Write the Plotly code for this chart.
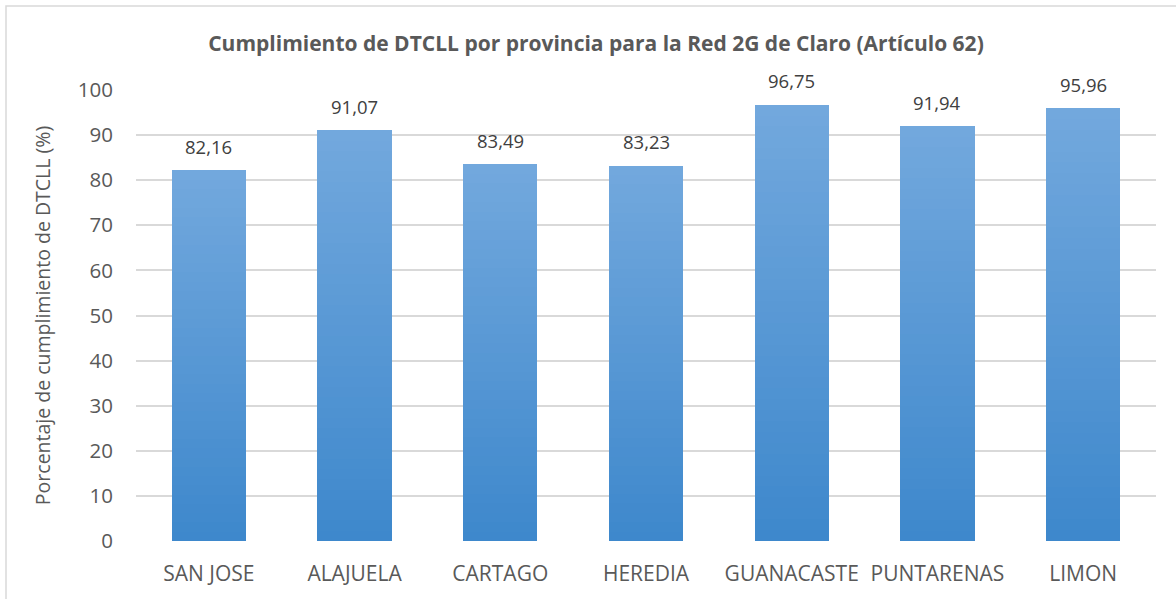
import plotly.graph_objects as go

# Provinces and DTCLL compliance (%) for Claro's 2G network
provincias = ["SAN JOSE", "ALAJUELA", "CARTAGO", "HEREDIA", "GUANACASTE", "PUNTARENAS", "LIMON"]
cumplimiento = [82.16, 91.07, 83.49, 83.23, 96.75, 91.94, 95.96]
y_ticks = [0, 10, 20, 30, 40, 50, 60, 70, 80, 90, 100]

FONT = "Open Sans"
GRAY = "#595959"
TOP_RGB = (114, 168, 221)
BOTTOM_RGB = (62, 136, 204)
N_SEG = 40

fig = go.Figure()

# Each bar is built from stacked slices so it gets a vertical gradient
for k in range(N_SEG):
    t = k / (N_SEG - 1)
    r, g, b = (round(BOTTOM_RGB[i] + (TOP_RGB[i] - BOTTOM_RGB[i]) * t) for i in range(3))
    fig.add_trace(go.Bar(
        x=provincias,
        y=[v / N_SEG for v in cumplimiento],
        marker=dict(color=f"rgb({r},{g},{b})", line=dict(width=0)),
        hoverinfo="skip",
        showlegend=False,
    ))

# Value labels above each bar
for p, v in zip(provincias, cumplimiento):
    fig.add_annotation(
        x=p, y=v, text=f"{v:.2f}".replace(".", ","),
        showarrow=False, yanchor="middle", yshift=24,
        font=dict(family=FONT, size=18.5, color="#404040"),
    )

# Light outer frame
fig.add_shape(
    type="rect", xref="paper", yref="paper",
    x0=(6 - 136) / 1020, x1=(1190 - 136) / 1020,
    y0=(541 - 620) / 451, y1=(541 - 6) / 451,
    line=dict(color="#d9d9d9", width=1.5), fillcolor="rgba(0,0,0,0)", layer="below",
)

fig.update_layout(
    width=1176, height=599,
    margin=dict(l=136, r=20, t=90, b=58),
    barmode="stack", bargap=0.49,
    plot_bgcolor="white", paper_bgcolor="white",
    title=dict(
        text="<b>Cumplimiento de DTCLL por provincia para la Red 2G de Claro (Artículo 62)</b>",
        x=(596 - 136) / 1020 * 0 + 596 / 1176, xref="container", xanchor="center",
        y=1 - 44 / 599, yanchor="middle",
        font=dict(family=FONT, size=21, color=GRAY),
    ),
    font=dict(family=FONT, color=GRAY),
    xaxis=dict(
        showgrid=False, showline=False, ticks="", ticklabelstandoff=18,
        tickfont=dict(family=FONT, size=21, color=GRAY),
    ),
    yaxis=dict(
        range=[0, 100], tickvals=y_ticks, showgrid=True, gridcolor="#d9d9d9", gridwidth=1.5,
        zeroline=False, showline=False, ticks="", ticklabelstandoff=22,
        tickfont=dict(family=FONT, size=20.5, color=GRAY),
        title=dict(text="Porcentaje de cumplimiento de DTCLL (%)", standoff=22,
                   font=dict(family=FONT, size=19.5, color=GRAY)),
    ),
)

fig.write_html("out.html")
